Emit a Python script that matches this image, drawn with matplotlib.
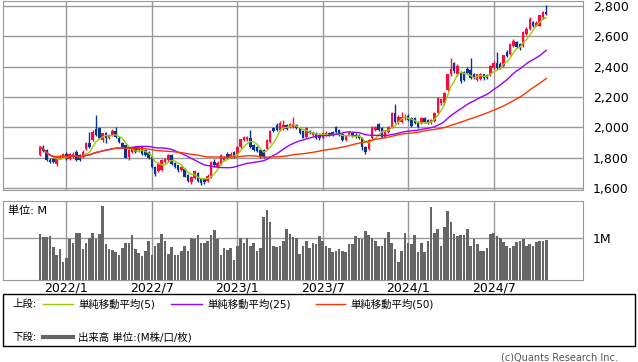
import numpy as np
import pandas as pd
import matplotlib
matplotlib.use('Agg')
import matplotlib.pyplot as plt
from matplotlib.patches import Rectangle
from matplotlib.lines import Line2D

plt.rcParams['font.family'] = ['DejaVu Sans', 'Noto Sans CJK JP']

# weekly OHLC
opens = [1816,1860,1849,1787,1793,1760,1798,1800,1827,1793,1804,1838,1815,1804,1860,1898,1916,1987,1993,1916,
         1960,1927,1949,1978,1933,1898,1882,1804,1838,1871,1849,1871,1849,1838,1804,1738,1711,1716,1771,1782,
         1816,1764,1749,1720,1727,1689,1638,1667,1698,1660,1660,1649,1671,1771,1738,1760,1782,1822,1804,1838,
         1827,1871,1916,1920,1933,1882,1871,1849,1854,1860,1904,1993,2015,1982,1987,2016,2000,2004,2016,1993,
         1978,1938,1976,1949,1965,1949,1933,1949,1964,1971,2004,1982,1955,1916,1949,1964,1949,1949,1927,1871,
         1860,1927,1982,2022,1993,1938,1971,2004,2093,2038,2038,2060,2075,2060,2060,2038,2027,2060,2049,2027,
         2044,2093,2160,2160,2249,2349,2422,2349,2364,2364,2382,2378,2349,2315,2320,2349,2342,2349,2393,2422,
         2415,2404,2498,2482,2538,2560,2549,2538,2616,2649,2694,2671,2671,2727,2760]
highs = [1875,1882,1855,1795,1800,1808,1815,1832,1835,1830,1840,1848,1822,1850,1905,1971,1980,2082,2000,1965,
         1970,1958,1990,2004,1940,1905,1890,1855,1865,1880,1878,1880,1855,1845,1810,1745,1770,1790,1800,1825,
         1822,1770,1755,1745,1733,1695,1680,1720,1705,1665,1668,1690,1780,1790,1775,1822,1812,1840,1835,1845,
         1878,1925,1945,1944,1982,1888,1878,1855,1860,1922,1985,2000,2030,2040,2050,2025,2030,2065,2025,2000,
         1985,2000,1985,1978,1970,1955,1968,1975,1970,1975,2010,1988,1960,1950,1975,1972,1960,1955,1935,1880,
         1922,2010,2012,2030,2000,1980,2012,2100,2155,2080,2100,2085,2085,2065,2065,2045,2065,2070,2055,2055,
         2100,2200,2195,2235,2355,2460,2430,2415,2370,2372,2395,2460,2360,2355,2358,2355,2350,2410,2435,2500,
         2430,2480,2510,2555,2580,2570,2555,2635,2660,2725,2700,2700,2742,2770,2809]
lows = [1810,1840,1775,1762,1765,1745,1790,1795,1788,1785,1800,1778,1778,1800,1850,1865,1910,1940,1920,1905,
        1900,1920,1940,1930,1895,1862,1795,1782,1830,1830,1840,1815,1810,1790,1730,1680,1705,1710,1765,1775,
        1750,1730,1705,1712,1670,1640,1625,1660,1640,1622,1628,1640,1665,1740,1730,1755,1775,1795,1798,1798,
        1820,1865,1910,1912,1865,1845,1838,1800,1800,1855,1898,1970,1975,1975,1980,1980,1993,1998,1987,1955,
        1928,1930,1955,1945,1920,1915,1925,1940,1940,1940,1965,1940,1910,1910,1940,1935,1930,1925,1849,1822,
        1850,1920,1975,1975,1930,1930,1965,1995,2030,2020,2030,2050,2040,2000,2020,1998,2020,2030,2020,2020,
        2038,2085,2150,2150,2240,2340,2360,2340,2290,2305,2350,2320,2318,2305,2310,2315,2318,2340,2385,2385,
        2385,2395,2465,2475,2530,2520,2510,2530,2610,2640,2660,2665,2665,2715,2740]
closes = [1871,1844,1782,1771,1771,1804,1809,1827,1793,1822,1827,1782,1782,1838,1898,1871,1971,1949,1927,1960,
          1927,1949,1978,1938,1905,1871,1800,1849,1860,1838,1871,1827,1816,1797,1738,1693,1760,1782,1793,1816,
          1760,1738,1716,1738,1676,1649,1671,1711,1649,1631,1638,1682,1771,1749,1764,1816,1804,1800,1827,1804,
          1871,1920,1938,1938,1871,1853,1844,1809,1804,1916,1978,1978,1982,2031,2016,1987,2022,2022,1993,1960,
          1933,1993,1960,1971,1927,1933,1964,1964,1949,1949,1971,1949,1916,1942,1964,1942,1938,1933,1871,1838,
          1916,2004,2004,1982,1938,1971,2004,2093,2038,2071,2071,2071,2049,2009,2027,2004,2060,2038,2027,2049,
          2093,2193,2187,2227,2349,2382,2371,2404,2304,2315,2360,2327,2327,2349,2349,2327,2327,2404,2426,2393,
          2393,2475,2471,2549,2571,2527,2520,2627,2649,2716,2671,2690,2738,2760,2749]
# weekly volume, millions
volume = [1.10,1.03,1.03,1.05,0.78,0.60,0.73,0.44,0.53,0.97,0.87,1.11,1.11,0.73,0.87,0.99,1.11,0.98,1.10,1.77,
          0.85,0.74,0.71,0.66,0.60,0.77,0.89,0.89,1.06,0.74,0.65,0.58,0.70,0.92,0.60,0.82,0.88,1.09,0.93,0.63,
          0.79,0.60,0.60,0.69,0.82,0.70,1.01,0.98,1.06,0.89,0.89,0.92,1.06,1.19,0.97,0.60,0.77,0.71,0.77,0.48,
          0.80,1.00,0.87,1.00,0.81,0.87,0.69,0.77,1.49,1.67,1.39,0.81,0.78,0.81,0.93,1.21,1.09,1.03,1.01,0.63,
          0.82,0.94,0.77,0.87,0.85,1.04,0.92,0.80,0.75,0.66,0.69,0.73,0.69,0.66,0.85,0.85,1.04,1.00,0.98,1.16,
          1.06,1.00,0.92,0.80,0.80,1.00,1.14,0.88,0.73,0.44,0.70,1.11,0.88,0.85,1.06,0.66,0.88,0.66,0.94,1.74,
          1.11,1.21,0.82,1.26,1.65,1.38,1.09,1.04,1.06,1.06,1.21,0.80,0.97,0.85,0.70,0.70,0.77,1.09,1.11,1.04,
          1.00,0.90,0.82,0.75,0.82,0.90,0.93,0.97,0.80,0.85,0.80,0.90,0.94,0.92,0.96]

dates = pd.date_range('2021-11-08', periods=len(closes), freq='W-MON')
x = np.arange(len(closes))
o = np.array(opens); h = np.array(highs); l = np.array(lows); c = np.array(closes)
cs = pd.Series(c)
ma5 = cs.rolling(5, min_periods=1).mean()
ma25 = cs.rolling(25, min_periods=1).mean()
ma50 = cs.rolling(50, min_periods=1).mean()

tick_months = ['2022-01', '2022-07', '2023-01', '2023-07', '2024-01', '2024-07']
tick_pos = [dates.searchsorted(pd.Timestamp(m + '-01')) for m in tick_months]
tick_lab = [m.replace('-0', '/') for m in tick_months]

UP, DOWN = '#ff0a3c', '#0a3296'
GRID = '#999999'

fig = plt.figure(figsize=(6.38, 3.62), dpi=100)
ax = fig.add_axes([3/638, 1 - 190/362, 580/638, 189/362])
axv = fig.add_axes([3/638, 1 - 280/362, 580/638, 79/362])
xl = (-11.3, 165.2)

# price panel
up = c >= o
cols = np.where(up, UP, DOWN)
ax.vlines(x, l, h, colors=cols, linewidth=1, zorder=3)
body = np.maximum(np.abs(c - o), 4)
ax.bar(x, body, bottom=np.minimum(o, c), width=0.75, color=cols, zorder=3)
ax.plot(x, ma5, color='#99cc00', lw=1, zorder=4)
ax.plot(x, ma25, color='#9900ff', lw=1, zorder=4)
ax.plot(x, ma50, color='#ff3300', lw=1, zorder=4)
ax.set_xlim(*xl)
ax.set_ylim(1587, 2833)
ax.set_yticks(range(1600, 2801, 200))
ax.set_yticklabels([f'{v:,}' for v in range(1600, 2801, 200)])
ax.yaxis.tick_right()
ax.set_xticks(tick_pos)
ax.set_xticklabels([])
ax.grid(True, color=GRID, lw=1)
ax.tick_params(length=0, labelsize=9, pad=7)

# volume panel
axv.bar(x, volume, width=0.8, color='#666666', zorder=3)
axv.set_xlim(*xl)
axv.set_ylim(0, 1.88)
axv.set_yticks([1])
axv.set_yticklabels(['1M'])
axv.yaxis.tick_right()
axv.set_xticks(tick_pos)
axv.set_xticklabels(tick_lab)
axv.grid(True, color=GRID, lw=1)
axv.tick_params(axis='y', length=0, labelsize=9, pad=7)
axv.tick_params(axis='x', length=0, labelsize=9, pad=1)
axv.text(0.008, 0.94, '単位: M', transform=axv.transAxes, fontsize=8, va='top', ha='left')

for a in (ax, axv):
    for s in a.spines.values():
        s.set_color(GRID)

# legend box
fig.patches.append(Rectangle((3/638, 1 - 346/362), 632/638, 52/362, transform=fig.transFigure,
                             fill=False, edgecolor='black', lw=1))
ly1 = 1 - 304/362
ly2 = 1 - 337/362
fs = 7.5
fig.text(12/638, ly1, '上段:', fontsize=fs, va='center')
fig.lines.append(Line2D([43/638, 73/638], [ly1, ly1], color='#99cc00', lw=1, transform=fig.transFigure))
fig.text(78/638, ly1, '単純移動平均(5)', fontsize=fs, va='center')
fig.lines.append(Line2D([171/638, 202/638], [ly1, ly1], color='#9900ff', lw=1, transform=fig.transFigure))
fig.text(207/638, ly1, '単純移動平均(25)', fontsize=fs, va='center')
fig.lines.append(Line2D([316/638, 345/638], [ly1, ly1], color='#ff3300', lw=1, transform=fig.transFigure))
fig.text(350/638, ly1, '単純移動平均(50)', fontsize=fs, va='center')
fig.text(12/638, ly2, '下段:', fontsize=fs, va='center')
fig.lines.append(Line2D([43/638, 73/638], [ly2, ly2], color='#666666', lw=3, transform=fig.transFigure))
fig.text(78/638, ly2, '出来高 単位:(M株/口/枚)', fontsize=fs, va='center')
fig.text(618/638, 1 - 357/362, '(c)Quants Research Inc.', fontsize=7, color='#555555', ha='right', va='center')

fig.savefig('out.png', dpi=100)
